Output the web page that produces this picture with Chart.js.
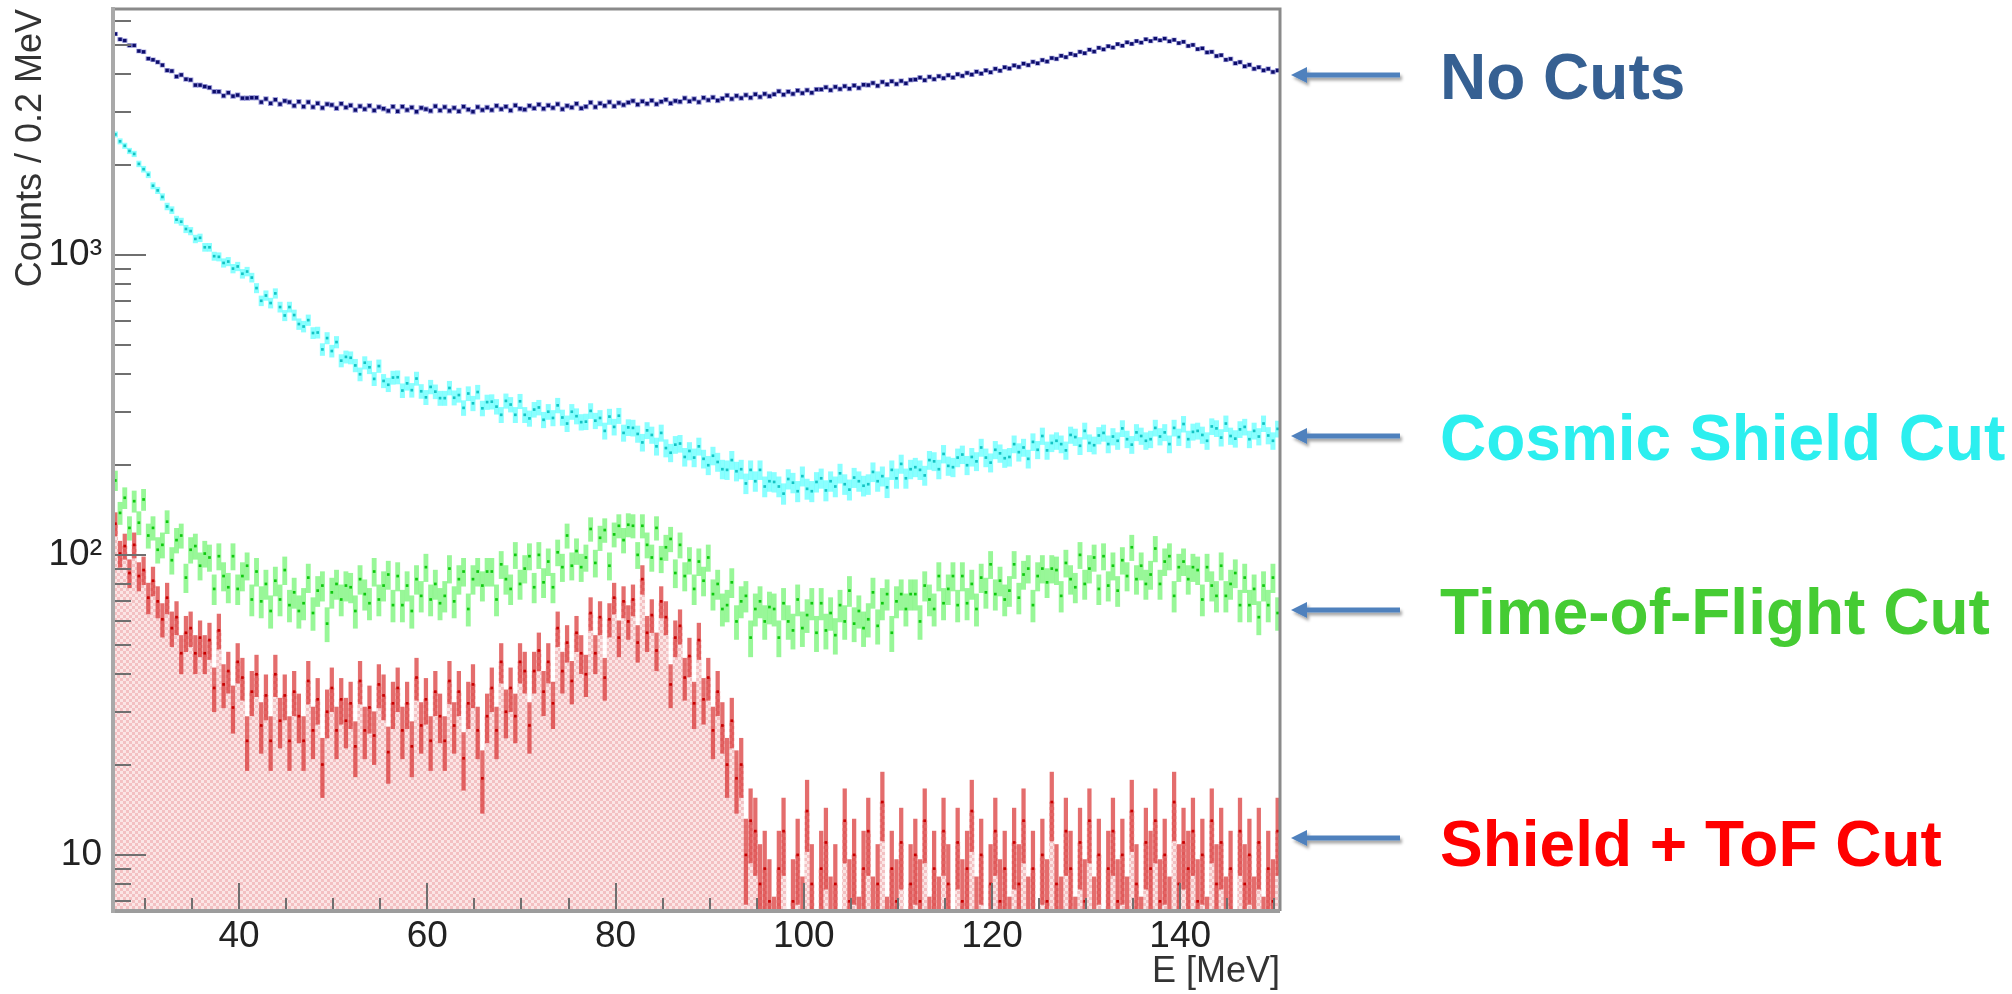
<!DOCTYPE html>
<html>
<head>
<meta charset="utf-8">
<script src="https://cdn.jsdelivr.net/npm/chart.js@4.4.1/dist/chart.umd.min.js"></script>
<style>
  html, body { margin: 0; padding: 0; background: #fff; }
  #wrap { position: relative; width: 2012px; height: 994px; overflow: hidden; background: #fff; }
  #spectrum { position: absolute; left: 0; top: 0; }
  #arrows { position: absolute; left: 0; top: 0; }
  .cut-label {
    position: absolute; left: 1440px;
    font-family: "Liberation Sans", Arial, Helvetica, sans-serif;
    font-weight: bold; font-size: 64px; line-height: 64px; white-space: nowrap;
  }
</style>
</head>
<body>
<div id="wrap">
  <canvas id="spectrum" width="2012" height="994"></canvas>
  <svg id="arrows" width="2012" height="994"></svg>
</div>
<script>
// histogram binning (MeV)
const binLow = 26.6;
const binWidth = 0.5;

// counts per 0.2 MeV, one entry per bin
const blueCounts = [
  5450, 5230, 5180, 4990, 4990, 4780, 4750, 4510, 4470, 4390,
  4290, 4120, 4100, 3930, 3980, 3850, 3830, 3680, 3680, 3640,
  3610, 3500, 3500, 3390, 3470, 3380, 3410, 3330, 3330, 3340,
  3340, 3230, 3310, 3200, 3290, 3180, 3260, 3230, 3140, 3240,
  3120, 3230, 3110, 3200, 3090, 3180, 3160, 3080, 3190, 3100,
  3150, 3040, 3130, 3060, 3140, 3030, 3110, 3070, 3020, 3120,
  3010, 3120, 3040, 3100, 3000, 3090, 3060, 3020, 3130, 3030,
  3110, 3020, 3090, 3010, 3120, 3050, 3000, 3110, 3040, 3100,
  3040, 3140, 3060, 3120, 3030, 3150, 3070, 3050, 3140, 3080,
  3170, 3070, 3150, 3090, 3180, 3060, 3140, 3100, 3190, 3080,
  3120, 3220, 3110, 3200, 3140, 3230, 3130, 3210, 3160, 3220,
  3260, 3170, 3250, 3190, 3270, 3180, 3240, 3290, 3200, 3260,
  3240, 3330, 3250, 3310, 3230, 3340, 3280, 3350, 3270, 3320,
  3400, 3310, 3390, 3330, 3410, 3340, 3430, 3360, 3440, 3380,
  3430, 3510, 3420, 3500, 3440, 3530, 3460, 3540, 3470, 3560,
  3560, 3620, 3540, 3630, 3570, 3650, 3580, 3670, 3600, 3690,
  3680, 3740, 3660, 3770, 3700, 3790, 3710, 3800, 3730, 3830,
  3840, 3900, 3820, 3920, 3850, 3940, 3880, 3970, 3900, 4000,
  3950, 4040, 3990, 4080, 4020, 4120, 4060, 4170, 4110, 4220,
  4180, 4280, 4230, 4340, 4290, 4400, 4350, 4460, 4410, 4530,
  4500, 4610, 4560, 4680, 4630, 4750, 4700, 4830, 4760, 4900,
  4840, 4960, 4910, 5040, 4980, 5110, 5050, 5160, 5100, 5230,
  5160, 5260, 5190, 5260, 5150, 5210, 5080, 5130, 4970, 5010,
  4850, 4880, 4730, 4750, 4600, 4630, 4470, 4500, 4350, 4390,
  4250, 4300, 4170, 4220, 4120, 4170, 4070, 4120
];

const cyanCounts = [
  2520, 2390, 2310, 2220, 2170, 2010, 1930, 1850, 1700, 1640,
  1560, 1450, 1410, 1310, 1290, 1220, 1200, 1130, 1140, 1060,
  1060, 990, 985, 940, 950, 900, 915, 865, 880, 840,
  775, 703, 732, 691, 744, 670, 628, 670, 630, 588,
  577, 606, 549, 551, 484, 528, 478, 512, 444, 457,
  454, 428, 400, 437, 422, 386, 426, 380, 369, 390,
  391, 353, 373, 354, 387, 351, 335, 363, 350, 333,
  333, 360, 334, 341, 309, 345, 320, 349, 308, 323,
  324, 312, 293, 326, 317, 293, 325, 293, 285, 305,
  310, 282, 300, 286, 315, 287, 274, 300, 290, 277,
  278, 302, 280, 286, 259, 289, 267, 291, 255, 266,
  265, 253, 237, 260, 251, 230, 255, 227, 219, 233,
  235, 212, 222, 211, 230, 209, 199, 214, 204, 193,
  192, 207, 190, 193, 173, 192, 176, 192, 169, 176,
  175, 169, 160, 179, 174, 163, 183, 166, 163, 175,
  180, 164, 176, 169, 187, 172, 165, 181, 176, 170,
  172, 189, 176, 183, 168, 192, 180, 201, 180, 193,
  196, 192, 184, 207, 205, 193, 217, 198, 196, 211,
  216, 199, 212, 205, 228, 211, 203, 224, 218, 210,
  212, 234, 220, 228, 209, 238, 224, 249, 223, 236,
  240, 234, 223, 251, 247, 231, 259, 236, 232, 250,
  255, 234, 248, 240, 264, 243, 233, 256, 249, 240,
  243, 265, 248, 256, 234, 265, 247, 273, 243, 257,
  259, 251, 240, 268, 264, 246, 274, 249, 244, 262,
  267, 243, 259, 248, 274, 250, 240, 263
];

const greenCounts = [
  177, 138, 155, 123, 151, 128, 153, 116, 123, 104,
  108, 129, 96, 112, 116, 84, 104, 107, 92, 101,
  98, 77, 99, 85, 78, 99, 77, 85, 92, 71,
  88, 70, 80, 65, 82, 71, 89, 68, 75, 65,
  69, 84, 64, 76, 79, 59, 75, 80, 71, 79,
  78, 65, 83, 74, 69, 88, 71, 79, 86, 68,
  85, 68, 79, 65, 83, 73, 91, 71, 80, 69,
  73, 90, 70, 83, 88, 66, 83, 88, 79, 88,
  88, 71, 93, 83, 77, 100, 80, 90, 99, 78,
  100, 81, 95, 78, 102, 91, 116, 92, 103, 91,
  98, 122, 94, 114, 121, 92, 117, 125, 112, 126,
  125, 100, 125, 108, 98, 123, 97, 106, 113, 87,
  108, 85, 96, 77, 95, 82, 98, 74, 80, 66,
  68, 81, 60, 70, 73, 53, 66, 70, 60, 67,
  66, 53, 69, 60, 56, 71, 57, 63, 69, 55,
  69, 56, 64, 54, 68, 60, 76, 59, 65, 57,
  61, 75, 58, 69, 74, 55, 70, 74, 66, 74,
  74, 60, 79, 71, 66, 85, 69, 77, 85, 68,
  85, 69, 80, 66, 84, 75, 93, 74, 82, 71,
  76, 93, 72, 86, 90, 68, 85, 90, 81, 90,
  89, 73, 94, 83, 78, 100, 80, 90, 98, 77,
  99, 79, 92, 76, 96, 85, 106, 83, 92, 80,
  86, 105, 80, 95, 99, 73, 91, 95, 83, 91,
  89, 71, 91, 79, 73, 92, 73, 80, 87, 68,
  84, 68, 77, 62, 79, 68, 84, 64
];

const redCounts = [
  127, 101, 107, 87, 108, 85, 89, 72, 82, 70,
  61, 72, 57, 62, 47, 55, 57, 47, 53, 47,
  52, 36, 56, 37, 41, 31, 44, 39, 24, 35,
  40, 27, 34, 24, 40, 28, 34, 24, 35, 29,
  24, 38, 26, 33, 20, 30, 36, 26, 33, 28,
  32, 23, 38, 26, 31, 25, 37, 34, 22, 32,
  36, 26, 32, 23, 39, 27, 33, 24, 35, 29,
  24, 38, 27, 35, 21, 32, 37, 26, 18, 29,
  36, 26, 44, 30, 36, 29, 44, 41, 27, 41,
  48, 35, 44, 32, 57, 41, 51, 38, 55, 47,
  40, 64, 47, 62, 39, 61, 72, 53, 70, 60,
  71, 51, 83, 55, 63, 48, 70, 62, 37, 53,
  58, 39, 46, 32, 52, 33, 39, 26, 35, 27,
  20, 28, 18, 20, 10, 13, 12, 8, 9, 7,
  5, 9, 12, 4, 7, 10, 6, 14, 8, 3,
  9, 11, 6, 8, 4, 13, 7, 10, 5, 9,
  12, 6, 8, 15, 5, 9, 7, 11, 4, 8,
  10, 7, 13, 5, 9, 6, 12, 8, 3, 11,
  7, 9, 14, 6, 10, 4, 8, 12, 7, 9,
  5, 11, 8, 13, 6, 9, 4, 10, 7, 15,
  8, 6, 12, 9, 5, 11, 7, 13, 6, 10,
  4, 9, 12, 7, 10, 6, 14, 8, 5, 11,
  9, 13, 7, 10, 6, 15, 8, 11, 9, 12,
  7, 10, 5, 13, 8, 11, 6, 9, 4, 12,
  8, 10, 6, 11, 5, 9, 7, 12
];

// axis ranges and ticks
const xRange = [26.6, 150.6];
const yRange = [6.5, 6600];
const xMajorStep = 20;
const xMinorStep = 5;
const yDecades = [1, 10, 100, 1000];

// right-hand annotations
const cutLabels = ['No Cuts', 'Cosmic Shield Cut', 'Time-of-Flight Cut', 'Shield + ToF Cut'];
const cutColors = ['#366092', '#2cefef', '#45cc33', '#ff0000'];
const cutRows = [76, 437, 611, 843];
const arrowRows = [75, 436, 610, 838];

const energies = redCounts.map((_, i) => binLow + binWidth * (i + 0.5));
const points = counts => counts.map((c, i) => ({ x: energies[i], y: c }));
const errorBars = counts => counts.map((c, i) => ({ x: energies[i], y: [c - Math.sqrt(c), c + Math.sqrt(c)] }));

// pink checkered fill used for the shield + ToF histogram
function checkerFill() {
  const c = document.createElement('canvas');
  c.width = 6; c.height = 6;
  const g = c.getContext('2d');
  g.fillStyle = '#fbe5e5';
  g.fillRect(0, 0, 6, 6);
  g.fillStyle = '#f3c0c2';
  g.fillRect(0, 0, 3, 3);
  g.fillRect(3, 3, 3, 3);
  return g.createPattern(c, 'repeat');
}

function barSet(counts, color, order, width) {
  return {
    type: 'bar', data: errorBars(counts), backgroundColor: color,
    borderWidth: 0, barThickness: width, grouped: false, order: order
  };
}
function markerSet(counts, color, order, radius) {
  return {
    type: 'line', data: points(counts), showLine: false,
    pointStyle: 'rect', pointRadius: radius, pointBorderWidth: 0,
    pointBackgroundColor: color, order: order
  };
}

// ROOT-style frame with inward ticks
const rootFrame = {
  id: 'rootFrame',
  afterDraw(chart) {
    const { ctx, chartArea: a, scales: { x, y } } = chart;
    ctx.save();
    ctx.strokeStyle = '#6f6f6f';
    ctx.lineWidth = 2;
    ctx.beginPath();
    for (let e = Math.ceil(x.min / xMinorStep) * xMinorStep; e <= x.max; e += xMinorStep) {
      const px = Math.round(x.getPixelForValue(e));
      const len = e % xMajorStep === 0 ? 28 : 13;
      ctx.moveTo(px, a.bottom);
      ctx.lineTo(px, a.bottom - len);
    }
    yDecades.forEach(d => {
      for (let k = 1; k <= 9; k++) {
        const v = k * d;
        if (v < y.min || v > y.max) continue;
        const py = Math.round(y.getPixelForValue(v));
        ctx.moveTo(a.left, py);
        ctx.lineTo(a.left + (k === 1 ? 33 : 18), py);
      }
    });
    ctx.stroke();

    ctx.strokeStyle = '#8a8a8a';
    ctx.lineWidth = 3;
    ctx.beginPath();
    ctx.moveTo(a.left, a.top);
    ctx.lineTo(a.right, a.top);
    ctx.lineTo(a.right, a.bottom);
    ctx.stroke();
    ctx.strokeStyle = '#9c9c9c';
    ctx.lineWidth = 4;
    ctx.beginPath();
    ctx.moveTo(a.left, a.bottom);
    ctx.lineTo(a.right, a.bottom);
    ctx.stroke();
    ctx.strokeStyle = '#a9a9a9';
    ctx.beginPath();
    ctx.moveTo(a.left, a.top - 2);
    ctx.lineTo(a.left, a.bottom + 2);
    ctx.stroke();
    ctx.restore();
  }
};

// keep the plot box fixed: no extra room for overhanging tick labels
function fixBox(size) {
  return s => {
    if (s.isHorizontal()) s.height = size; else s.width = size;
    s.paddingTop = 0; s.paddingBottom = 0; s.paddingLeft = 0; s.paddingRight = 0;
  };
}

const fontFamily = "'Liberation Sans', Arial, Helvetica, sans-serif";
const decadeLabel = v => {
  const p = Math.log10(v);
  if (Math.abs(p - Math.round(p)) > 1e-6) return null;
  return ['', '10', '10\u00b2', '10\u00b3'][Math.round(p)] || null;
};

new Chart(document.getElementById('spectrum'), {
  data: {
    datasets: [
      markerSet(blueCounts, '#0c0c6a', 1, 2.4),
      barSet(blueCounts, 'rgba(85, 85, 190, 0.6)', 2, 4.7),
      markerSet(cyanCounts, '#14c4c4', 3, 1.9),
      barSet(cyanCounts, 'rgba(60, 255, 255, 0.6)', 4, 4.4),
      markerSet(greenCounts, '#0fc80f', 5, 1.9),
      barSet(greenCounts, 'rgba(50, 240, 50, 0.5)', 6, 4.2),
      markerSet(redCounts, '#c80000', 7, 1.9),
      barSet(redCounts, 'rgba(215, 40, 40, 0.68)', 8, 3.6),
      {
        type: 'bar', data: points(redCounts), backgroundColor: checkerFill(),
        borderWidth: 0, barPercentage: 1, categoryPercentage: 1,
        grouped: false, order: 9
      }
    ]
  },
  options: {
    responsive: false,
    animation: false,
    devicePixelRatio: 1,
    layout: { padding: { top: 9, right: 732, bottom: 0, left: 0 } },
    plugins: { legend: { display: false }, tooltip: { enabled: false } },
    scales: {
      x: {
        type: 'linear', min: xRange[0], max: xRange[1], offset: false,
        grid: { display: false, drawTicks: false, offset: false },
        border: { display: false },
        ticks: {
          stepSize: xMajorStep, includeBounds: false, padding: 4,
          autoSkip: false, maxRotation: 0, color: '#222',
          font: { family: fontFamily, size: 37 },
          callback: v => v
        },
        title: {
          display: true, text: 'E [MeV]', align: 'end', color: '#333',
          font: { family: fontFamily, size: 36 }, padding: { top: 0, bottom: 0 }
        },
        afterFit: fixBox(83)
      },
      y: {
        type: 'logarithmic', min: yRange[0], max: yRange[1],
        grid: { display: false, drawTicks: false },
        border: { display: false },
        ticks: {
          autoSkip: false, padding: 11, color: '#222',
          font: { family: fontFamily, size: 37 },
          callback: decadeLabel
        },
        title: {
          display: true, text: 'Counts / 0.2 MeV', align: 'end', color: '#333',
          font: { family: fontFamily, size: 36 }, padding: { top: 9, bottom: 0 }
        },
        afterFit: fixBox(113)
      }
    }
  },
  plugins: [rootFrame]
});

// annotation labels and arrows
const wrap = document.getElementById('wrap');
cutLabels.forEach((text, i) => {
  const d = document.createElement('div');
  d.className = 'cut-label';
  d.textContent = text;
  d.style.color = cutColors[i];
  d.style.top = (cutRows[i] - 31) + 'px';
  wrap.appendChild(d);
});

let arrowSvg = '<defs><filter id="shade" x="-10%" y="-80%" width="130%" height="300%">' +
  '<feDropShadow dx="2" dy="3" stdDeviation="1.5" flood-color="#000" flood-opacity="0.35"/></filter></defs>';
arrowRows.forEach(r => {
  arrowSvg += '<path filter="url(#shade)" fill="#4f81bd" d="M1291 ' + r +
    ' L1307 ' + (r - 8) + ' L1307 ' + (r - 2.5) + ' L1400 ' + (r - 2.5) +
    ' L1400 ' + (r + 2.5) + ' L1307 ' + (r + 2.5) + ' L1307 ' + (r + 8) + ' Z"/>';
});
document.getElementById('arrows').innerHTML = arrowSvg;
</script>
</body>
</html>
